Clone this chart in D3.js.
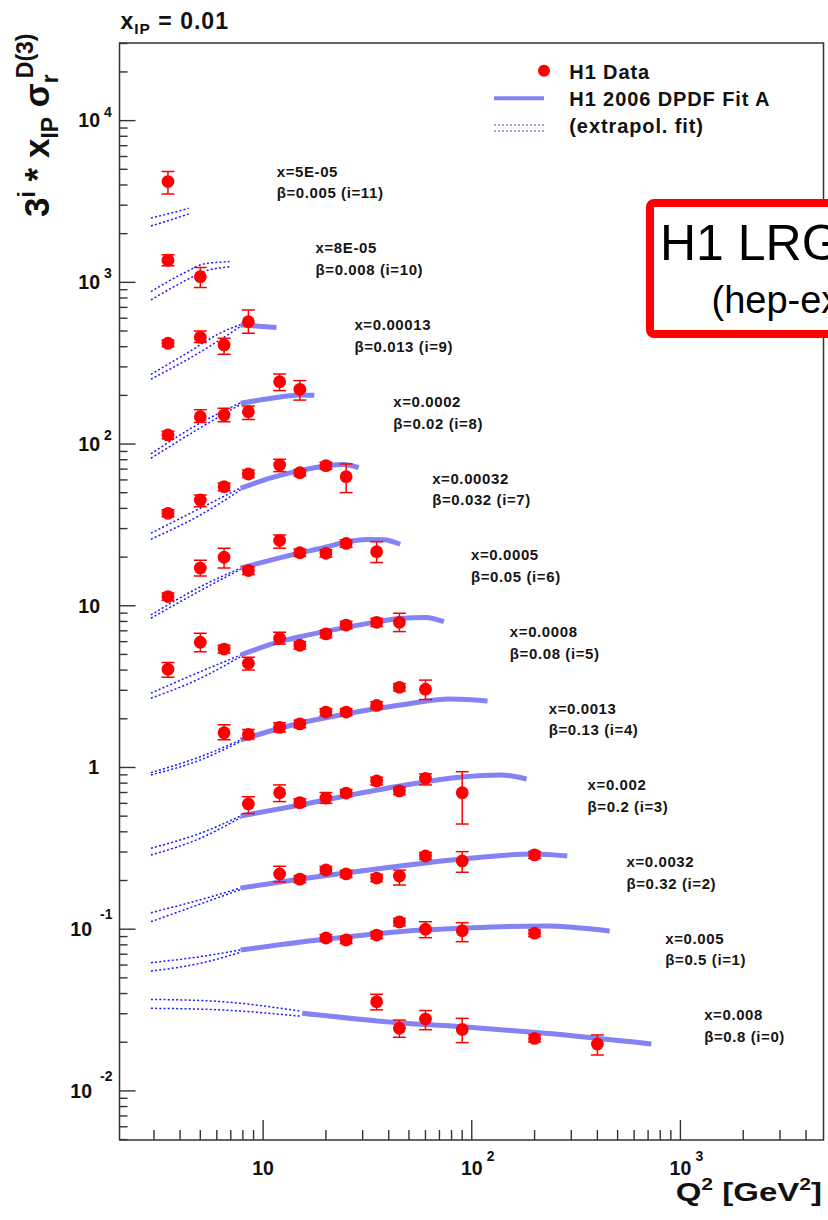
<!DOCTYPE html>
<html><head><meta charset="utf-8">
<script src="https://cdn.jsdelivr.net/npm/d3@7"></script>
<style>
html,body{margin:0;padding:0;background:#fff;}
svg{display:block;}
text{font-family:"Liberation Sans",Arial,Helvetica,sans-serif;}
</style></head><body>
<svg id="chart" width="828" height="1220"></svg>
<script>
// Frame ranges: Q² [GeV²] and 3^i * x_IP * sigma_r^D(3)
const q2Domain = [2.05, 4850];
const sigmaDomain = [0.00497, 30200];

// Bins, top to bottom (i = 11 ... 0)
const seriesIndex = [11, 10, 9, 8, 7, 6, 5, 4, 3, 2, 1, 0];
const xLabels = ["5E-05", "8E-05", "0.00013", "0.0002", "0.00032", "0.0005",
                 "0.0008", "0.0013", "0.002", "0.0032", "0.005", "0.008"];
const betaLabels = ["0.005", "0.008", "0.013", "0.02", "0.032", "0.05",
                    "0.08", "0.13", "0.2", "0.32", "0.5", "0.8"];

// H1 data: [Q², value, error-bar low, error-bar high]
const dataPoints = [
  [[3.5, 4200, 3520, 4840]],
  [[3.5, 1370, 1265, 1480], [5, 1084, 930, 1235]],
  [[3.5, 420, 400, 440], [5, 457, 424, 500], [6.5, 410, 359, 451], [8.5, 571, 484, 674]],
  [[3.5, 113.8, 108, 120], [5, 147.7, 136, 163], [6.5, 151.4, 137.5, 166.5], [8.5, 158.5, 142, 172],
   [12, 243, 214, 271], [15, 218, 187, 247]],
  [[3.5, 37.3, 35.5, 39.2], [5, 45.1, 41, 48.4], [6.5, 54.5, 51.5, 57.5], [8.5, 65.3, 62, 69],
   [12, 74.2, 67.5, 80.5], [15, 66.5, 63.5, 69.5], [20, 73.5, 70, 77], [25, 62.8, 50.1, 75.3]],
  [[3.5, 11.4, 10.8, 12.0], [5, 17.1, 15.3, 19.1], [6.5, 19.95, 17.1, 22.7], [8.5, 16.5, 15.6, 17.4],
   [12, 25.3, 22.7, 27.4], [15, 21.3, 20.2, 22.4], [20, 21.1, 20, 22.2], [25, 24.3, 23, 25.6],
   [35, 21.6, 18.5, 24.9]],
  [[3.5, 4.05, 3.61, 4.45], [5, 5.95, 5.2, 6.77], [6.5, 5.4, 5.1, 5.7], [8.5, 4.41, 4.0, 4.8],
   [12, 6.3, 5.8, 6.86], [15, 5.7, 5.4, 6.0], [20, 6.7, 6.35, 7.05], [25, 7.6, 7.2, 8.0],
   [35, 7.9, 7.45, 8.35], [45, 7.9, 6.92, 8.99]],
  [[6.5, 1.64, 1.484, 1.837], [8.5, 1.60, 1.5, 1.72], [12, 1.77, 1.66, 1.89], [15, 1.86, 1.76, 1.96],
   [20, 2.20, 2.09, 2.31], [25, 2.20, 2.09, 2.31], [35, 2.42, 2.3, 2.55], [45, 3.13, 2.97, 3.3],
   [60, 3.05, 2.63, 3.47]],
  [[8.5, 0.595, 0.52, 0.66], [12, 0.698, 0.615, 0.78], [15, 0.606, 0.575, 0.64], [20, 0.647, 0.6, 0.7],
   [25, 0.695, 0.66, 0.73], [35, 0.825, 0.78, 0.87], [45, 0.716, 0.68, 0.755], [60, 0.857, 0.78, 0.913],
   [90, 0.698, 0.447, 0.9416]],
  [[12, 0.2195, 0.196, 0.245], [15, 0.204, 0.194, 0.214], [20, 0.2323, 0.221, 0.244],
   [25, 0.2195, 0.209, 0.231], [35, 0.207, 0.197, 0.218], [45, 0.213, 0.1875, 0.232],
   [60, 0.2835, 0.27, 0.298], [90, 0.264, 0.2249, 0.3017], [200, 0.288, 0.274, 0.302]],
  [[20, 0.0882, 0.084, 0.0926], [25, 0.0857, 0.0815, 0.09], [35, 0.092, 0.0875, 0.0966],
   [45, 0.1108, 0.105, 0.1165], [60, 0.1, 0.0886, 0.1112], [90, 0.0978, 0.0837, 0.1097],
   [200, 0.0945, 0.09, 0.099]],
  [[35, 0.0356, 0.0317, 0.0396], [45, 0.0244, 0.02146, 0.0274], [60, 0.0278, 0.0239, 0.0314],
   [90, 0.024, 0.01987, 0.0281], [200, 0.0211, 0.0201, 0.0222], [400, 0.0195, 0.01667, 0.02218]]
];

// H1 2006 DPDF Fit A inside the fitted region: [Q², value]
const fitCurves = [
  [],
  [],
  [[7.8, 545], [9.5, 536], [11.6, 526]],
  [[7.8, 179], [10.4, 190], [15.1, 201], [17.6, 200]],
  [[7.8, 53.3], [10.9, 61.7], [14.8, 68.2], [19.9, 73.2], [24.3, 74.8], [28.7, 71.5]],
  [[7.8, 17.1], [14.7, 21.1], [19.9, 23.0], [25, 24.8], [31.5, 25.7], [37.9, 25.6], [45.4, 24.0]],
  [[7.8, 4.96], [12, 6.0], [15.1, 6.44], [25, 7.35], [35, 7.95], [45, 8.35], [60, 8.45], [73.5, 7.97]],
  [[7.8, 1.479], [15.1, 1.884], [24.8, 2.142], [45.4, 2.435], [79, 2.652], [119, 2.578]],
  [[7.8, 0.5013], [15.1, 0.5862], [24.8, 0.6663], [45.4, 0.7684], [89.5, 0.8735], [137, 0.8987], [183, 0.8489]],
  [[7.8, 0.1798], [15.1, 0.2043], [24.8, 0.2226], [45.4, 0.2459], [89.5, 0.2716], [198, 0.2917], [287, 0.2835]],
  [[7.8, 0.0744], [19.7, 0.0866], [44.6, 0.0965], [100, 0.102], [226, 0.1047], [458, 0.0975]],
  [[15.4, 0.0302], [44.3, 0.0264], [100.6, 0.0247], [226, 0.0227], [726, 0.0195]]
];

// extrapolated fit band edges: [Q², upper, lower]
const extrapCurves = [
  [[2.9, 2500, 2233], [3.6, 2674, 2432], [4.4, 2870, 2650]],
  [[2.9, 876, 778], [4.3, 1165, 1035], [5.2, 1300, 1165], [6.9, 1343, 1250]],
  [[2.9, 270, 252], [4.3, 364, 331], [6.2, 484, 440], [7.8, 548, 535]],
  [[2.9, 87, 81.7], [5.0, 135, 126], [7.8, 180, 176]],
  [[2.9, 28.1, 25.8], [5.0, 40.1, 36.4], [7.8, 53.5, 52]],
  [[2.9, 8.77, 8.37], [5.0, 13.1, 12.4], [7.8, 17.1, 16.8]],
  [[2.9, 2.88, 2.68], [5.0, 3.91, 3.56], [7.8, 4.96, 4.85]],
  [[2.9, 0.929, 0.899], [5.0, 1.166, 1.113], [7.8, 1.48, 1.45]],
  [[2.9, 0.3165, 0.2877], [5.0, 0.392, 0.365], [7.8, 0.501, 0.49]],
  [[2.9, 0.1265, 0.1113], [5.0, 0.152, 0.143], [7.8, 0.18, 0.176]],
  [[2.9, 0.0621, 0.0551], [5.0, 0.0676, 0.0615], [7.8, 0.0745, 0.072]],
  [[2.9, 0.0368, 0.0324], [5.6, 0.036, 0.0319], [15, 0.0312, 0.029]]
];

// axis labels: [value, mantissa, exponent]
const yTickLabels = [[0.01, "10", "-2"], [0.1, "10", "-1"], [1, "1", ""], [10, "10", ""],
                     [100, "10", "2"], [1000, "10", "3"], [10000, "10", "4"]];
const xTickLabels = [[10, "10", ""], [100, "10", "2"], [1000, "10", "3"]];
const legendLabels = ["H1 Data", "H1 2006 DPDF Fit A", "(extrapol. fit)"];

const W = 828, H = 1220;
const frame = {left: 119.5, right: 823.5, top: 43, bottom: 1140};
const dataRed = "#ff0000", fitBlue = "#8383f6", dotBlue = "#1a1aff";

const svg = d3.select("#chart");
svg.append("rect").attr("width", W).attr("height", H).attr("fill", "#fff");

const x = d3.scaleLog().domain(q2Domain).range([frame.left, frame.right]);
const y = d3.scaleLog().domain(sigmaDomain).range([frame.bottom, frame.top]);

svg.append("clipPath").attr("id", "plotClip").append("rect")
  .attr("x", frame.left).attr("y", frame.top)
  .attr("width", frame.right - frame.left).attr("height", frame.bottom - frame.top);

const plot = svg.append("g").attr("clip-path", "url(#plotClip)");

const lineUpper = d3.line().x(d => x(d[0])).y(d => y(d[1])).curve(d3.curveMonotoneX);
const lineLower = d3.line().x(d => x(d[0])).y(d => y(d[2])).curve(d3.curveMonotoneX);
const lineFit = d3.line().x(d => x(d[0])).y(d => y(d[1])).curve(d3.curveMonotoneX);

// extrapolated fit: two dotted edges
extrapCurves.forEach(c => {
  [lineUpper, lineLower].forEach(gen => {
    plot.append("path").attr("d", gen(c)).attr("fill", "none")
      .attr("stroke", dotBlue).attr("stroke-width", 1.5).attr("stroke-dasharray", "2,2.2");
  });
});

// fitted region: solid band
fitCurves.forEach(c => {
  if (!c.length) return;
  plot.append("path").attr("d", lineFit(c)).attr("fill", "none")
    .attr("stroke", fitBlue).attr("stroke-width", 5).attr("stroke-linecap", "butt");
});

// data: error bars with caps, then markers
dataPoints.forEach(pts => {
  const g = plot.append("g");
  pts.forEach(p => {
    const cx = x(p[0]);
    g.append("line").attr("x1", cx).attr("x2", cx).attr("y1", y(p[2])).attr("y2", y(p[3]))
      .attr("stroke", dataRed).attr("stroke-width", 1.5);
    [p[2], p[3]].forEach(v => {
      g.append("line").attr("x1", cx - 6.5).attr("x2", cx + 6.5).attr("y1", y(v)).attr("y2", y(v))
        .attr("stroke", dataRed).attr("stroke-width", 1.5);
    });
  });
  pts.forEach(p => {
    g.append("circle").attr("cx", x(p[0])).attr("cy", y(p[1])).attr("r", 6.4).attr("fill", dataRed);
  });
});

// bin labels
seriesIndex.forEach((iv, k) => {
  const lx = 276.7 + k * 38.86;
  const ly = 176.7 + k * 76.7;
  const t = svg.append("g").attr("font-size", 15).attr("font-weight", "bold")
    .attr("letter-spacing", 0.6).attr("fill", "#151515");
  t.append("text").attr("x", lx).attr("y", ly).text("x=" + xLabels[k]);
  t.append("text").attr("x", lx).attr("y", ly + 21.7).text("\u03b2=" + betaLabels[k] + " (i=" + iv + ")");
});

// frame
svg.append("rect").attr("x", frame.left).attr("y", frame.top)
  .attr("width", frame.right - frame.left).attr("height", frame.bottom - frame.top)
  .attr("fill", "none").attr("stroke", "#333").attr("stroke-width", 1.5);

// y ticks
const isDecade = v => Math.abs(Math.log10(v) - Math.round(Math.log10(v))) < 1e-6;
y.ticks().forEach(v => {
  const len = isDecade(v) ? 16 : 8;
  svg.append("line").attr("x1", frame.left).attr("x2", frame.left + len)
    .attr("y1", y(v)).attr("y2", y(v)).attr("stroke", "#333").attr("stroke-width", 1.4);
});
// x ticks
x.ticks().forEach(v => {
  const len = isDecade(v) ? 20 : 10;
  svg.append("line").attr("x1", x(v)).attr("x2", x(v))
    .attr("y1", frame.bottom).attr("y2", frame.bottom - len).attr("stroke", "#333").attr("stroke-width", 1.4);
});

// y tick labels
yTickLabels.forEach(([v, m, e]) => {
  const ty = y(v);
  const g = svg.append("g").attr("font-weight", "bold").attr("fill", "#111");
  if (e.startsWith("-")) {
    g.append("text").attr("x", 92).attr("y", ty + 7.3).attr("text-anchor", "end").attr("font-size", 19.5).text(m);
    g.append("text").attr("x", 100).attr("y", ty - 10).attr("font-size", 14).text(e);
  } else if (e) {
    g.append("text").attr("x", 100).attr("y", ty + 6.5).attr("text-anchor", "end").attr("font-size", 19.5).text(m);
    g.append("text").attr("x", 104).attr("y", ty - 4).attr("font-size", 14).text(e);
  } else {
    g.append("text").attr("x", m === "1" ? 99 : 100).attr("y", ty + 7).attr("text-anchor", "end")
      .attr("font-size", 19.5).text(m);
  }
});

// x tick labels
xTickLabels.forEach(([v, m, e]) => {
  const tx = x(v);
  const g = svg.append("g").attr("font-weight", "bold").attr("fill", "#111");
  g.append("text").attr("x", tx).attr("y", 1175).attr("text-anchor", "middle").attr("font-size", 19.5).text(m);
  if (e) g.append("text").attr("x", tx + 15).attr("y", 1161).attr("font-size", 14).text(e);
});

// x-axis title
const xt = svg.append("text").attr("transform", "translate(822,1201) scale(1.32,1)")
  .attr("text-anchor", "end").attr("font-weight", "bold").attr("font-size", 25).attr("fill", "#111");
xt.append("tspan").text("Q");
xt.append("tspan").attr("dy", -11).attr("font-size", 16).text("2");
xt.append("tspan").attr("dy", 11).text(" [GeV");
xt.append("tspan").attr("dy", -11).attr("font-size", 16).text("2");
xt.append("tspan").attr("dy", 11).text("]");

// y-axis title
const yt = svg.append("text").attr("transform", "translate(49,217) rotate(-90)")
  .attr("font-weight", "bold").attr("font-size", 35).attr("fill", "#111");
yt.append("tspan").text("3");
yt.append("tspan").attr("dy", -14).attr("font-size", 23).text("i");
yt.append("tspan").attr("dy", 14).text(" * x");
yt.append("tspan").attr("dy", 9).attr("font-size", 23).text("IP");
yt.append("tspan").attr("dy", -9).text(" \u03c3");
yt.append("tspan").attr("dy", 9).attr("font-size", 23).text("r");
yt.append("tspan").attr("dy", -25).attr("dx", -4).attr("font-size", 23).text("D(3)");

// top title
const tt = svg.append("text").attr("x", 120.5).attr("y", 28.5).attr("letter-spacing", 1)
  .attr("font-weight", "bold").attr("font-size", 23).attr("fill", "#111");
tt.append("tspan").text("x");
tt.append("tspan").attr("dy", 5).attr("font-size", 15.5).text("IP");
tt.append("tspan").attr("dy", -5).text(" = 0.01");

// legend
const lg = svg.append("g");
lg.append("circle").attr("cx", 544).attr("cy", 70.7).attr("r", 6).attr("fill", dataRed);
lg.append("line").attr("x1", 494).attr("x2", 544).attr("y1", 98.3).attr("y2", 98.3)
  .attr("stroke", fitBlue).attr("stroke-width", 4);
[125, 131].forEach(yy => {
  lg.append("line").attr("x1", 494).attr("x2", 544).attr("y1", yy).attr("y2", yy)
    .attr("stroke", fitBlue).attr("stroke-width", 1.6).attr("stroke-dasharray", "2,2");
});
legendLabels.forEach((s, k) => {
  lg.append("text").attr("x", 569.3).attr("y", [79, 106, 132.5][k]).attr("font-weight", "bold")
    .attr("font-size", 20).attr("letter-spacing", 0.9).attr("fill", "#111").text(s);
});

// publication stamp
const stamp = svg.append("g");
stamp.append("rect").attr("x", 650).attr("y", 203).attr("width", 260).attr("height", 131).attr("rx", 4)
  .attr("fill", "#fff").attr("stroke", "#ff0000").attr("stroke-width", 8);
stamp.append("text").attr("x", 660).attr("y", 259.5).attr("font-family", "'Liberation Serif','Times New Roman',serif")
  .attr("font-size", 50).attr("fill", "#000").text("H1 LRG");
stamp.append("text").attr("x", 711.5).attr("y", 313).attr("font-family", "'Liberation Serif','Times New Roman',serif")
  .attr("font-size", 38).attr("fill", "#000").text("(hep-ex/0606004)");
</script>
</body></html>
